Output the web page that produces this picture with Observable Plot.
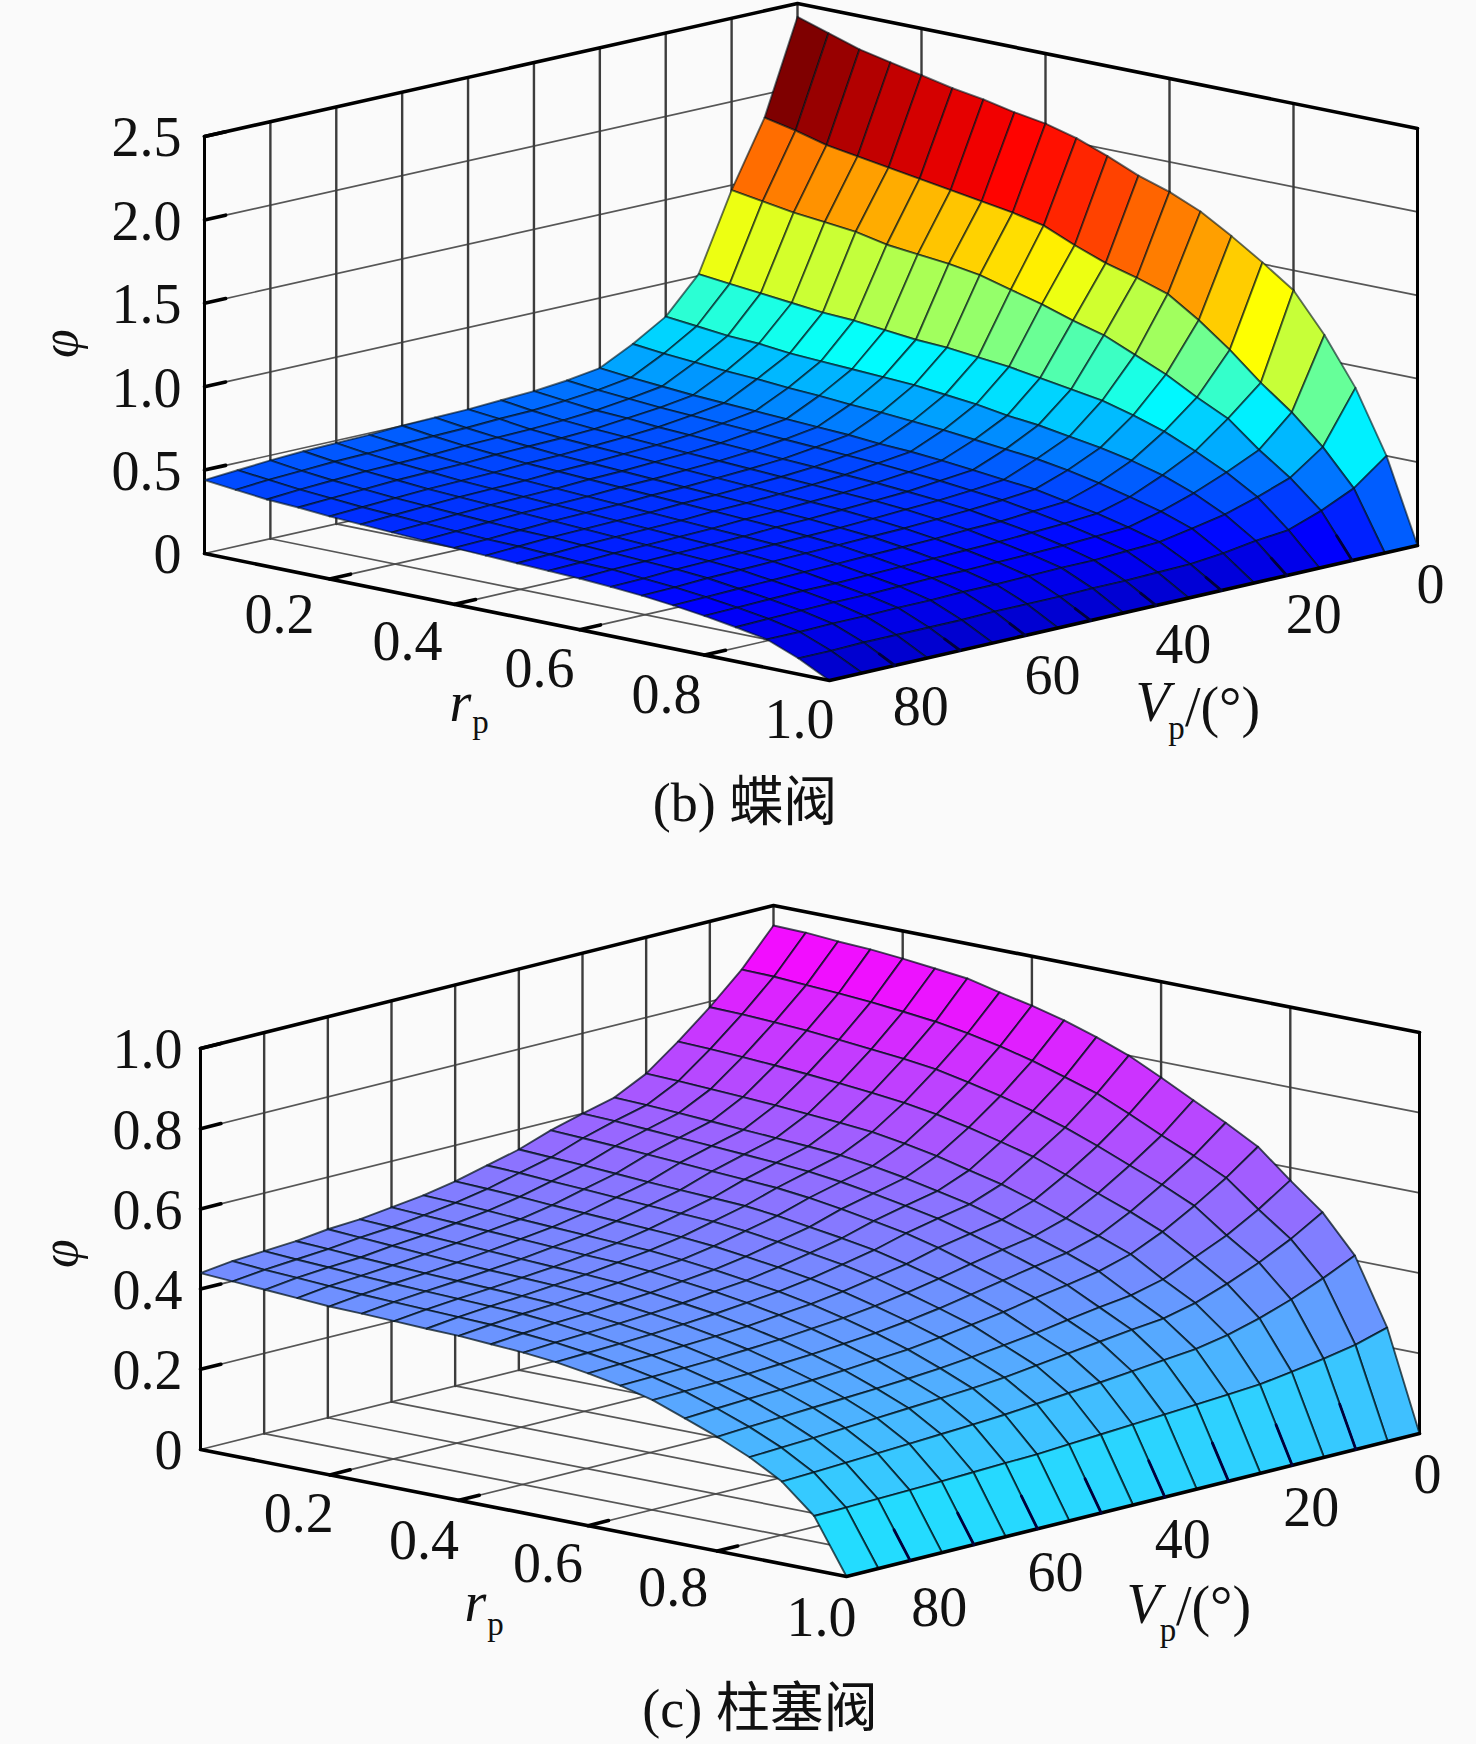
<!DOCTYPE html>
<html>
<head>
<meta charset="utf-8">
<script src="https://cdn.jsdelivr.net/npm/d3@7"></script>
<script src="https://cdn.jsdelivr.net/npm/@observablehq/plot@0.6"></script>
<style>
html,body{margin:0;padding:0;background:#fafafa;height:1744px;overflow:hidden}
svg{display:block}
.cap{font-family:"Liberation Serif","Noto Sans CJK SC",serif;font-size:54px;color:#111;text-align:center;white-space:pre}
</style>
</head>
<body>
<div id="root"></div>
<script>
// Axis values
const rpValues = [0,.05,.1,.15,.2,.25,.3,.35,.4,.45,.5,.55,.6,.65,.7,.75,.8,.85,.9,.95,1];
const vpValues = [0,5,10,15,20,25,30,35,40,45,50,55,60,65,70,75,80,85,90];
const rpTicks = [.2,.4,.6,.8,1];
const vpLabelTicks = [0,20,40,60,80];
const rpGrid = [.2,.4,.6,.8];
const vpGrid = [10,20,30,40,50,60,70,80];
const phiTicksB = [0,.5,1,1.5,2,2.5];
const phiTicksC = [0,.2,.4,.6,.8,1];

// phi values, one row per Vp, one column per rp
const phiB = [
[2.42,2.36,2.30,2.26,2.22,2.18,2.15,2.11,2.08,2.03,1.96,1.88,1.82,1.74,1.63,1.51,1.38,1.15,.87,.50,0],
[1.86,1.82,1.77,1.74,1.71,1.68,1.65,1.62,1.59,1.55,1.47,1.40,1.35,1.29,1.17,1.03,.87,.73,.56,.35,0],
[1.47,1.44,1.41,1.39,1.37,1.33,1.31,1.29,1.26,1.21,1.16,1.10,1.05,.97,.89,.79,.70,.55,.42,.26,0],
[1.01,.99,.97,.95,.93,.92,.90,.88,.87,.85,.83,.80,.77,.74,.69,.63,.55,.46,.35,.19,0],
[.80,.78,.76,.75,.73,.72,.71,.70,.69,.67,.65,.62,.60,.57,.54,.50,.45,.38,.29,.17,0],
[.68,.66,.645,.63,.62,.605,.595,.58,.57,.555,.54,.52,.50,.48,.45,.41,.365,.315,.25,.14,0],
[.58,.56,.545,.53,.52,.51,.50,.49,.48,.465,.455,.44,.42,.40,.38,.345,.31,.265,.215,.12,0],
[.55,.53,.515,.50,.49,.48,.47,.46,.45,.44,.43,.415,.40,.38,.36,.33,.295,.255,.205,.115,0],
[.53,.51,.49,.48,.465,.455,.445,.435,.425,.415,.405,.395,.38,.365,.345,.315,.285,.245,.195,.11,0],
[.52,.495,.475,.46,.45,.44,.43,.42,.41,.40,.39,.38,.37,.355,.335,.31,.275,.24,.195,.11,0],
[.51,.49,.465,.45,.44,.43,.42,.41,.40,.39,.38,.37,.36,.345,.325,.30,.27,.235,.19,.105,0],
[.505,.48,.46,.445,.43,.42,.41,.40,.39,.38,.37,.36,.35,.335,.32,.295,.265,.23,.185,.105,0],
[.50,.475,.455,.44,.425,.415,.405,.395,.385,.375,.365,.355,.345,.33,.315,.29,.26,.23,.185,.105,0],
[.49,.47,.445,.43,.415,.405,.395,.385,.375,.365,.355,.345,.335,.325,.31,.285,.255,.225,.18,.10,0],
[.485,.46,.44,.425,.41,.40,.39,.38,.37,.36,.35,.34,.33,.32,.305,.28,.25,.22,.18,.10,0],
[.48,.455,.435,.42,.405,.395,.385,.375,.365,.355,.345,.335,.325,.315,.30,.275,.25,.22,.175,.10,0],
[.47,.445,.425,.41,.395,.385,.375,.365,.355,.35,.34,.33,.32,.31,.295,.27,.245,.215,.175,.10,0],
[.455,.435,.415,.40,.385,.375,.365,.355,.345,.34,.33,.32,.315,.30,.285,.265,.24,.21,.17,.095,0],
[.44,.42,.40,.39,.375,.365,.355,.345,.338,.33,.322,.315,.307,.295,.28,.26,.235,.205,.17,.095,0]
];
const phiC = [
[.95,.948,.942,.938,.931,.922,.913,.894,.877,.856,.83,.80,.761,.72,.68,.636,.568,.504,.412,.248,0],
[.86,.858,.853,.848,.842,.834,.825,.812,.795,.775,.75,.725,.69,.652,.617,.578,.515,.457,.375,.225,0],
[.786,.784,.78,.775,.768,.76,.752,.742,.725,.707,.685,.66,.63,.597,.565,.528,.47,.418,.342,.21,0],
[.72,.717,.713,.708,.702,.695,.687,.678,.665,.648,.628,.607,.578,.547,.517,.483,.435,.385,.315,.197,0],
[.66,.657,.653,.649,.644,.638,.632,.625,.612,.597,.577,.558,.533,.505,.477,.447,.40,.357,.293,.186,0],
[.62,.617,.613,.608,.603,.598,.593,.587,.576,.562,.545,.528,.505,.48,.454,.424,.38,.338,.278,.18,0],
[.60,.597,.592,.587,.582,.577,.572,.566,.556,.543,.528,.512,.49,.466,.44,.41,.37,.33,.27,.175,0],
[.578,.574,.57,.565,.56,.555,.55,.545,.536,.524,.51,.495,.475,.45,.425,.397,.358,.32,.262,.17,0],
[.55,.546,.542,.537,.532,.528,.524,.52,.511,.499,.487,.473,.454,.433,.41,.382,.345,.31,.254,.165,0],
[.53,.527,.522,.518,.513,.509,.505,.501,.493,.482,.47,.457,.44,.418,.395,.37,.335,.30,.247,.16,0],
[.51,.507,.503,.498,.494,.49,.486,.482,.475,.465,.454,.441,.425,.405,.383,.358,.325,.29,.24,.155,0],
[.495,.492,.488,.483,.479,.475,.471,.468,.461,.452,.441,.429,.414,.395,.373,.348,.317,.283,.233,.15,0],
[.485,.481,.477,.473,.469,.465,.461,.458,.452,.443,.433,.421,.406,.388,.366,.342,.311,.278,.228,.148,0],
[.475,.471,.467,.463,.459,.455,.451,.448,.443,.434,.424,.413,.398,.381,.36,.336,.306,.273,.224,.145,0],
[.47,.465,.46,.455,.45,.447,.444,.441,.436,.428,.418,.407,.393,.376,.355,.331,.302,.268,.22,.142,0],
[.46,.456,.451,.447,.443,.44,.437,.434,.43,.422,.413,.402,.389,.372,.351,.327,.298,.263,.216,.14,0],
[.455,.45,.446,.441,.437,.434,.431,.428,.425,.418,.409,.398,.385,.369,.349,.324,.294,.258,.212,.138,0],
[.45,.444,.44,.435,.43,.427,.424,.421,.418,.412,.405,.395,.383,.367,.347,.32,.29,.254,.208,.136,0],
[.44,.435,.43,.425,.42,.418,.415,.412,.41,.405,.40,.392,.38,.365,.345,.315,.285,.25,.205,.135,0]
];

const SERIF = "Liberation Serif";
const BG = "#fafafa";

function panel(cfg) {
  const {phi, phiTicks, phiMax, top, height, corners, zScale, colorScale} = cfg;
  const project = (rp, vp, z) => {
    const v = vp / 90, c = corners;
    const w = [(1-rp)*(1-v), rp*(1-v), (1-rp)*v, rp*v];
    const p = [c.back, c.right, c.left, c.front];
    return {
      x: d3.sum(p, (q,i) => q[0]*w[i]),
      y: d3.sum(p, (q,i) => q[1]*w[i]) - z*zScale
    };
  };
  const paths = list => list.flatMap((pts,k) => pts.map(([r,v,z]) => ({k, ...project(r,v,z)})));
  const pathMark = (list, opts) => Plot.line(paths(list), {x:"x", y:"y", z:"k", ...opts});

  // facets, far to near
  const cells = [];
  let id = 0;
  for (let i = 0; i < vpValues.length-1; i++) for (let j = 0; j < rpValues.length-1; j++) {
    const value = phi[i][j];
    for (const [a,b] of [[i,j],[i,j+1],[i+1,j+1],[i+1,j]])
      cells.push({cell:id, value, ...project(rpValues[b], vpValues[a], phi[a][b])});
    id++;
  }

  const wallGrid = [
    ...phiTicks.map(z => [[0,90,z],[0,0,z],[1,0,z]]),
  ];
  const vGrid = [
    ...vpGrid.map(v => [[0,v,0],[0,v,phiMax]]),
    [[0,0,0],[0,0,phiMax]],
    ...rpGrid.map(r => [[r,0,0],[r,0,phiMax]])
  ];
  const floorGrid = [
    ...vpGrid.map(v => [[0,v,0],[1,v,0]]),
    ...rpGrid.map(r => [[r,90,0],[r,0,0]])
  ];
  const backFrame = [[[0,90,phiMax],[0,0,phiMax],[1,0,phiMax]]];
  const sideFrame = [[[0,90,0],[0,90,phiMax]],[[1,0,0],[1,0,phiMax]]];
  const frontFrame = [[[0,90,0],[1,90,0],[1,0,0]]];
  const ticks = [
    ...phiTicks.filter(z=>z>0).map(z => [[0,90,z],[0,86.8,z]]),
    ...rpGrid.map(r => [[r,90,0],[r,86.8,0]])
  ];
  const meshTicks = vpGrid.map(v => {
    const i = vpValues.indexOf(v);
    return [[1,v,0],[.975,v,.5*phi[i][19]]];
  });

  const txt = (d, t, dx, dy, o={}) => Plot.text([d], {
    x: d => project(...d).x, y: d => project(...d).y, text: () => t, dx, dy,
    fontFamily: SERIF, fontSize: 56, fill:"#111", ...o
  });
  const labels = [
    ...phiTicks.map(z => txt([0,90,z],
      z===0 ? "0" : z.toFixed(1), cfg.phiDx, 2, {textAnchor:"end"})),
    ...rpTicks.map((r,k) => txt([r,90,0], r.toFixed(1), cfg.rpOff[k][0], cfg.rpOff[k][1])),
    ...vpLabelTicks.map((v,k) => txt([1,v,0], String(v), cfg.vpOff[k][0], cfg.vpOff[k][1]))
  ];
  const free = (t,x,y,o={}) => Plot.text([0], {x:()=>x, y:()=>y, text:()=>t,
    fontFamily:SERIF, fontSize:56, fill:"#111", ...o});
  const a = cfg.titles;
  const titles = [
    free("φ", a.phi[0], a.phi[1], {rotate:-90, fontStyle:"italic", fontSize:52}),
    free("r", a.r[0], a.r[1], {fontStyle:"italic"}),
    free("p", a.rp[0], a.rp[1], {fontSize:33}),
    free("V", a.V[0], a.V[1], {fontStyle:"italic"}),
    free("p", a.Vp[0], a.Vp[1], {fontSize:33}),
    free("/(°)", a.unit[0], a.unit[1])
  ];

  return Plot.plot({
    width: 1476, height, margin: 0,
    style: {background: BG, display:"block"},
    x: {domain:[0,1476], range:[0,1476], axis:null},
    y: {domain:[top, top+height], range:[0,height], axis:null},
    color: colorScale,
    marks: [
      pathMark(floorGrid, {stroke:"#444", strokeWidth:1.7, strokeOpacity:.9}),
      pathMark(wallGrid, {stroke:"#444", strokeWidth:1.7, strokeOpacity:.9}),
      pathMark(vGrid, {stroke:"#3c3c3c", strokeWidth:2.4}),
      pathMark(sideFrame, {stroke:"#000", strokeWidth:3}),
      pathMark(backFrame, {stroke:"#000", strokeWidth:3.6}),
      pathMark(ticks, {stroke:"#000", strokeWidth:3.6}),
      Plot.line(cells, {x:"x", y:"y", z:"cell", fill:"value", stroke:"#001018",
        strokeWidth:1.9, strokeOpacity:cfg.meshOpacity, curve:"linear-closed"}),
      pathMark(frontFrame, {stroke:"#000", strokeWidth:3.6}),
      pathMark(meshTicks, {stroke:"#00003c", strokeWidth:2.8}),
      ...labels, ...titles
    ]
  });
}

const JET_AT = [0,.11,.375,.625,.875,1];
const JET = ["#0000b4","#0000ff","#00ffff","#ffff00","#ff0000","#7f0000"];

const figB = panel({
  phi: phiB, phiTicks: phiTicksB, phiMax: 2.5, top: 0, height: 770, zScale: 166.8, meshOpacity: .6, phiDx: -23,
  corners: {left:[204,553], front:[829,680], right:[1417,545], back:[797,420]},
  colorScale: {type:"linear", domain: JET_AT.map(t => t*2.42), range: JET},
  rpOff: [[-50,36],[-47,38],[-40,39],[-38,40],[-30,40]],
  vpOff: [[13,40],[27,40],[27,40],[27,41],[26,42]],
  titles: {phi:[60,343], r:[460,703], rp:[480,722], V:[1152,703], Vp:[1176,728], unit:[1222,708]}
});
const figC = panel({
  phi: phiC, phiTicks: phiTicksC, phiMax: 1, top: 860, height: 810, zScale: 401, meshOpacity: .72, phiDx: -18,
  corners: {left:[200,1449], front:[846,1576], right:[1419,1433], back:[773,1306]},
  colorScale: {type:"linear", domain:[0,1], range:["#00ffff","#ff00ff"]},
  rpOff: [[-31,39],[-35,41],[-40,38],[-44,37],[-25,42]],
  vpOff: [[8,42],[19,43],[18,43],[18,44],[29,47]],
  titles: {phi:[60,1253], r:[475,1603], rp:[495,1624], V:[1143,1605], Vp:[1167.5,1630], unit:[1213,1607]}
});

const root = document.getElementById("root");
const caption = (t, h, lh, pl) => {
  const d = document.createElement("div");
  d.className = "cap"; d.textContent = t;
  d.style.height = h+"px"; d.style.lineHeight = lh+"px"; d.style.paddingLeft = pl+"px";
  return d;
};
root.append(figB, caption("(b) 蝶阀", 90, 66, 14), figC, caption("(c) 柱塞阀", 74, 78, 44));
</script>
</body>
</html>
